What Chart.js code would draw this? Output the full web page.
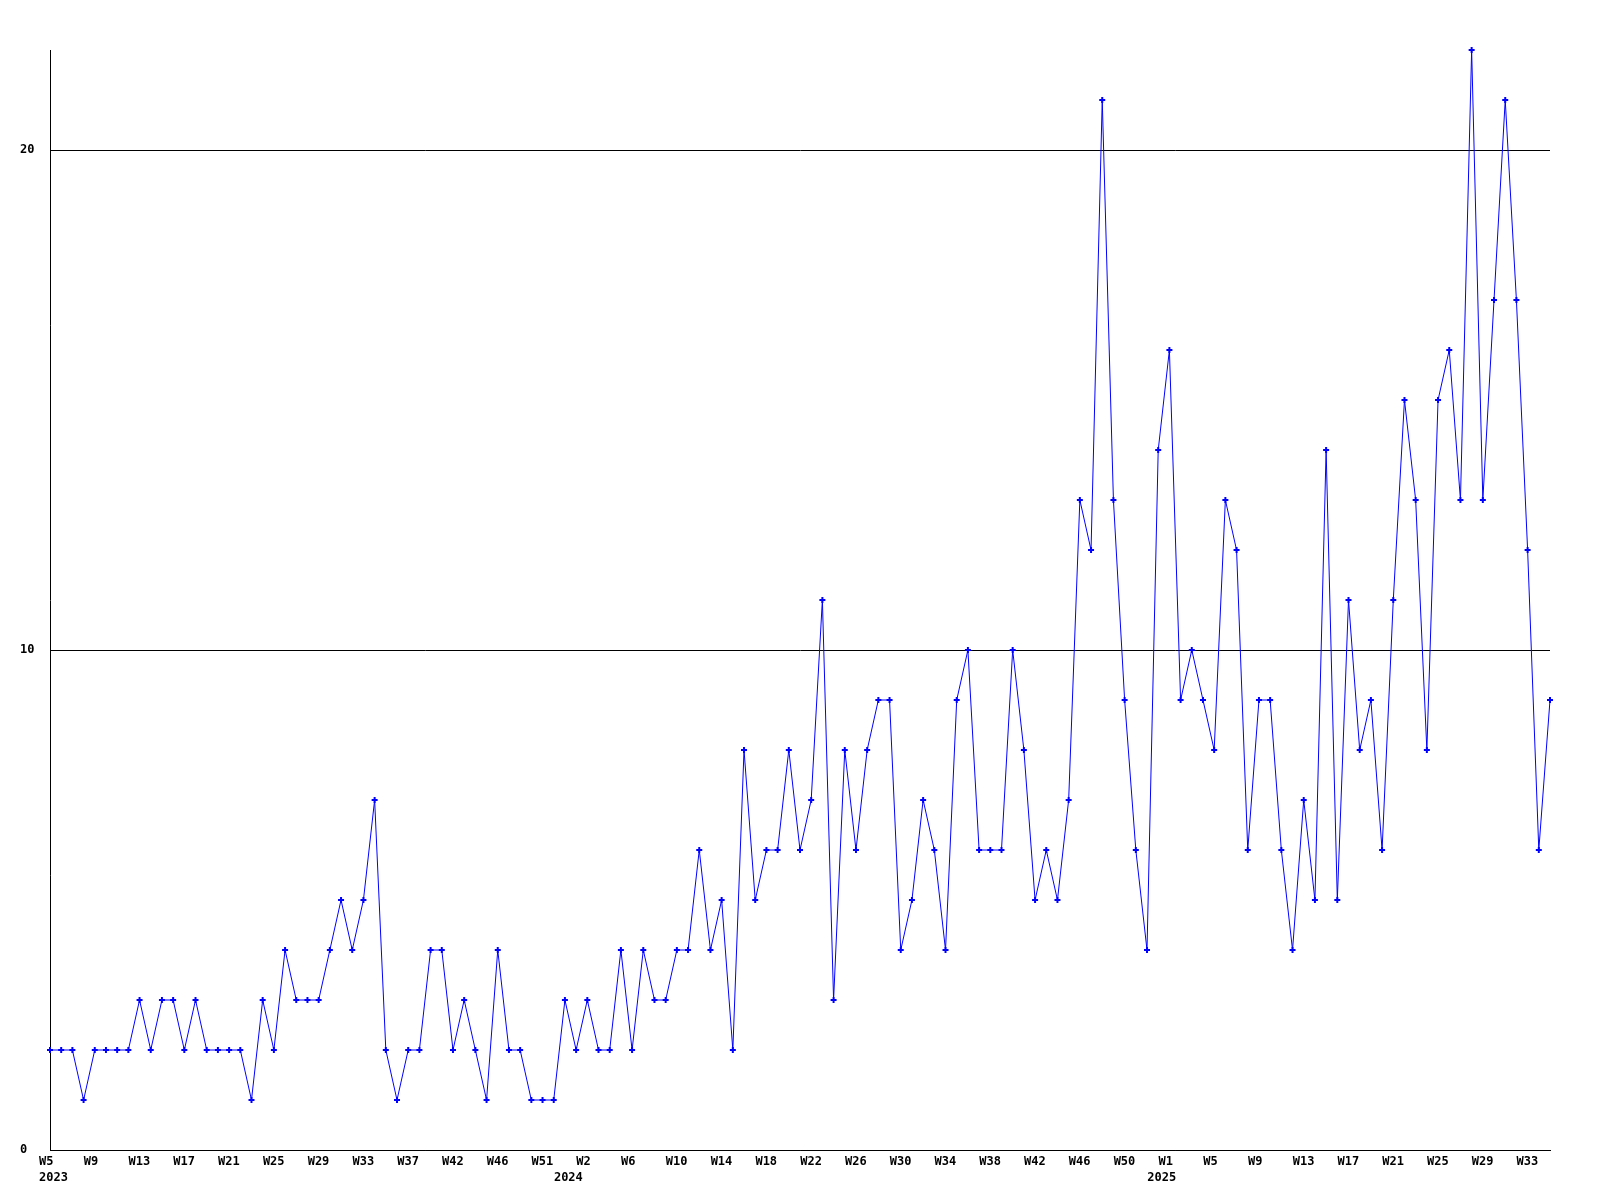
<!DOCTYPE html>
<html>
<head>
<meta charset="utf-8">
<script src="https://cdn.jsdelivr.net/npm/chart.js@4/dist/chart.umd.min.js"></script>
<style>
  html, body { margin: 0; padding: 0; background: #fff; }
</style>
</head>
<body>
<canvas id="chart" width="1600" height="1200"></canvas>
<script>
// weekly counts, 2023 W5 .. 2025 W35
const values = [
  2, 2, 2, 1, 2, 2, 2, 2, 3, 2,
  3, 3, 2, 3, 2, 2, 2, 2, 1, 3,
  2, 4, 3, 3, 3, 4, 5, 4, 5, 7,
  2, 1, 2, 2, 4, 4, 2, 3, 2, 1,
  4, 2, 2, 1, 1, 1, 3, 2, 3, 2,
  2, 4, 2, 4, 3, 3, 4, 4, 6, 4,
  5, 2, 8, 5, 6, 6, 8, 6, 7, 11,
  3, 8, 6, 8, 9, 9, 4, 5, 7, 6,
  4, 9, 10, 6, 6, 6, 10, 8, 5, 6,
  5, 7, 13, 12, 21, 13, 9, 6, 4, 14,
  16, 9, 10, 9, 8, 13, 12, 6, 9, 9,
  6, 4, 7, 5, 14, 5, 11, 8, 9, 6,
  11, 15, 13, 8, 15, 16, 13, 22, 13, 17,
  21, 17, 12, 6, 9
];

// one label every 4 points, as printed on the axis
const tickLabels = [
  "W5", "W9", "W13", "W17", "W21", "W25", "W29", "W33", "W37", "W42",
  "W46", "W51", "W2", "W6", "W10", "W14", "W18", "W22", "W26", "W30",
  "W34", "W38", "W42", "W46", "W50", "W1", "W5", "W9", "W13", "W17",
  "W21", "W25", "W29", "W33"
];
const tickEvery = 4;

// second row: year, keyed by point index
const yearLabels = { 0: "2023", 46: "2024", 99: "2025" };

const yTicks = [0, 10, 20];
const yMax = 22;

const categories = values.map((v, i) => String(i));

const xFont = { family: "DejaVu Sans Mono", weight: "bold", size: 12, lineHeight: "16px" };
const yFont = { family: "DejaVu Sans Mono", weight: "bold", size: 12 };

new Chart(document.getElementById("chart"), {
  type: "line",
  data: {
    labels: categories,
    datasets: [{
      data: values,
      borderColor: "#0000ff",
      borderWidth: 1,
      backgroundColor: "#0000ff",
      pointStyle: "cross",
      pointRadius: 3,
      pointBorderWidth: 2,
      pointBorderColor: "#0000ff",
      pointHoverRadius: 3,
      tension: 0,
      fill: false,
      clip: false,
    }],
  },
  options: {
    responsive: false,
    animation: false,
    devicePixelRatio: 1,
    layout: { padding: { left: 20, top: 50, right: 50, bottom: 0 } },
    plugins: {
      legend: { display: false },
      tooltip: { enabled: false },
    },
    scales: {
      x: {
        type: "category",
        grid: { drawOnChartArea: false, drawTicks: false },
        border: { display: true, color: "#000", width: 1 },
        ticks: {
          autoSkip: false,
          maxRotation: 0,
          minRotation: 0,
          align: "start",
          labelOffset: -11,
          padding: 4,
          color: "#000",
          font: xFont,
          callback: function (value, index) {
            const lab = index % tickEvery === 0 ? (tickLabels[index / tickEvery] || "") : "";
            const yr = yearLabels[index];
            return yr ? [lab, yr] : lab;
          },
        },
        afterFit: function (scale) { scale.height = 50; },
      },
      y: {
        min: 0,
        max: yMax,
        grid: { color: "#000", lineWidth: 1, drawTicks: false },
        border: { display: true, color: "#000", width: 1 },
        ticks: {
          crossAlign: "far",
          padding: 0,
          color: "#000",
          font: yFont,
        },
        afterBuildTicks: function (scale) {
          scale.ticks = yTicks.map(v => ({ value: v }));
        },
        afterFit: function (scale) { scale.width = 30; },
      },
    },
  },
});
</script>
</body>
</html>
